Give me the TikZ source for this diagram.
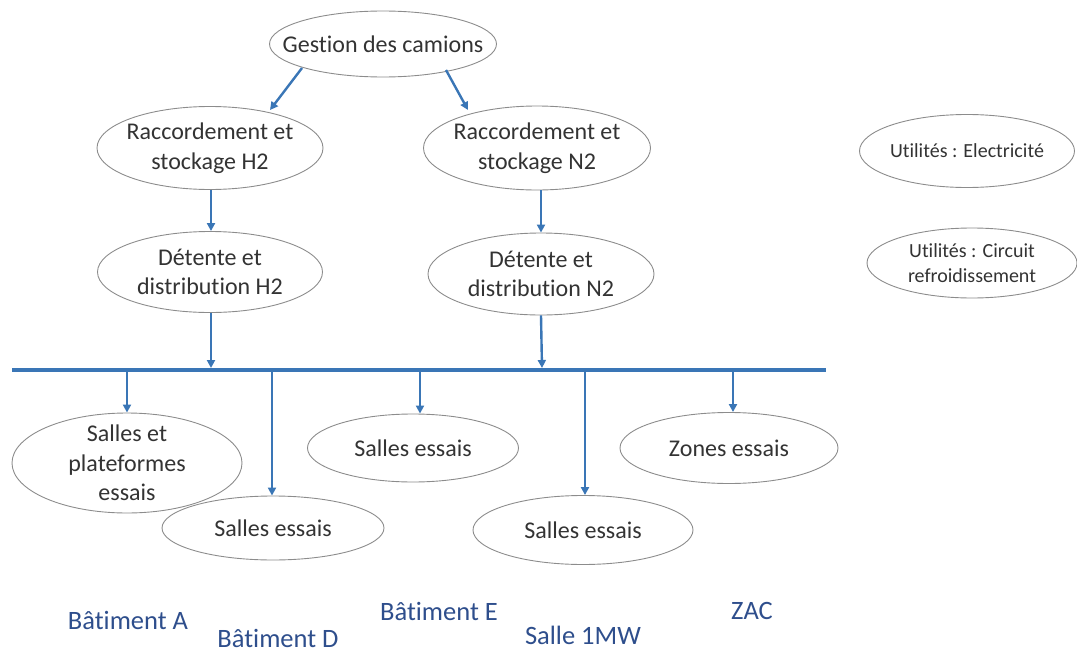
\documentclass[tikz,border=0pt]{standalone}
\usepackage{fontspec}
\setmainfont{Carlito}[Ligatures={NoCommon}]
\usetikzlibrary{shapes.geometric,arrows.meta}
\definecolor{arrowblue}{HTML}{3A76B6}
\definecolor{edgegray}{HTML}{8C8C8C}
\definecolor{txtgray}{HTML}{333333}
\definecolor{lblblue}{HTML}{2E4E8C}
\begin{document}
\begin{tikzpicture}[x=1pt,y=-1pt,
  oval/.style={ellipse,draw=edgegray,line width=0.9pt,inner sep=-30pt,
    text=txtgray,align=center,font=\fontsize{24}{29.5}\selectfont},
  small/.style={font=\fontsize{20}{25}\selectfont},
  conn/.style={draw=arrowblue,line width=2.4pt,-{Triangle[length=8pt,width=8pt]}},
  lbl/.style={text=lblblue,font=\fontsize{26.5}{32}\selectfont,inner sep=0pt}]
\useasboundingbox (0,0) rectangle (1077,653);
\node[oval,minimum width=227pt,minimum height=66pt] (gest) at (383,44) {Gestion des camions};
\node[oval,minimum width=226pt,minimum height=83pt] (rh2) at (210,148) {Raccordement et\\stockage H2};
\node[oval,minimum width=227pt,minimum height=84pt] (rn2) at (537,148) {Raccordement et\\stockage N2};
\node[oval,minimum width=225pt,minimum height=81pt] (dh2) at (210,272) {Détente et\\distribution H2};
\node[oval,minimum width=226pt,minimum height=82pt] (dn2) at (541,274) {Détente et\\distribution N2};
\node[oval,small,minimum width=215pt,minimum height=73pt] (uel) at (967,151) {Utilités : Electricité};
\node[oval,small,minimum width=210pt,minimum height=70pt] (ucr) at (972,263) {Utilités : Circuit\\refroidissement};
\node[oval,minimum width=230pt,minimum height=100pt] (sa) at (127,463) {Salles et\\plateformes\\essais};
\node[oval,minimum width=222pt,minimum height=64pt] (sd) at (273,528) {Salles essais};
\node[oval,minimum width=211pt,minimum height=68pt] (se) at (413,448) {Salles essais};
\node[oval,minimum width=220pt,minimum height=69pt] (sm) at (583,530) {Salles essais};
\node[oval,minimum width=218pt,minimum height=71pt] (sz) at (729,448) {Zones essais};
\coordinate (busL) at (12,370);
\coordinate (busR) at (826,370);
\draw[arrowblue,line width=3.5pt] (busL) -- (busR);
\coordinate (g1) at (302,68);
\coordinate (g2) at (446,70);
\coordinate (t1) at (270,110);
\coordinate (t2) at (468,110);
\draw[conn] (g1) -- (t1);
\draw[conn] (g2) -- (t2);
\draw[conn] ([xshift=1pt]rh2.south) -- ([xshift=1pt]dh2.north);
\draw[conn] ([xshift=4pt]rn2.south) -- (dn2.north);
\coordinate (bh2) at (211,368);
\coordinate (bn2) at (542,368);
\draw[conn] ([xshift=1pt]dh2.south) -- (bh2);
\draw[conn] (dn2.south) -- (bn2);
\coordinate (pa) at (127,371);
\coordinate (pd) at (272,371);
\coordinate (pe) at (420,371);
\coordinate (pm) at (585,371);
\coordinate (pz) at (733,371);
\draw[conn] (pa) -- (pa |- sa.north);
\draw[conn] (pd) -- (pd |- sd.north);
\draw[conn] (pe) -- (pe |- se.north);
\draw[conn] (pm) -- (pm |- sm.north);
\draw[conn] (pz) -- (pz |- sz.north);
\node[lbl] (la) at (128,620) {Bâtiment A};
\node[lbl] (ld) at (278,638) {Bâtiment D};
\node[lbl] (le) at (439,611) {Bâtiment E};
\node[lbl] (lm) at (583,635) {Salle 1MW};
\node[lbl] (lz) at (752,611) {ZAC};
\end{tikzpicture}
\end{document}
